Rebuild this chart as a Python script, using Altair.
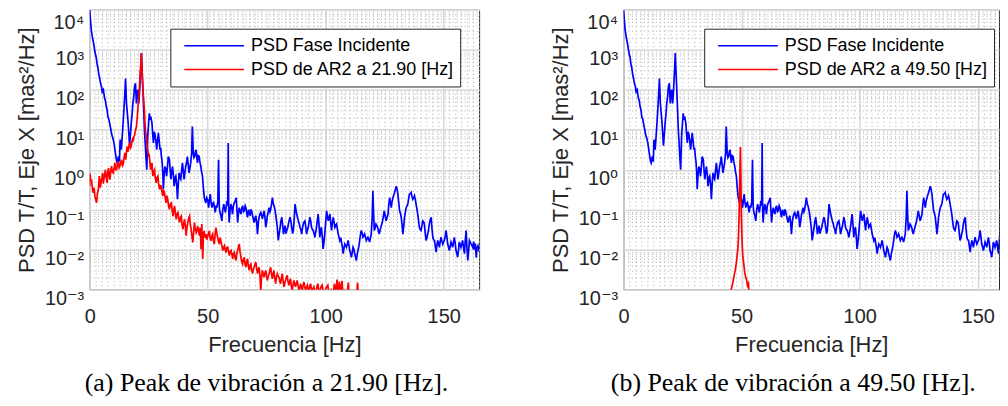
import altair as alt
import pandas as pd

# ---------------- data (log10 of PSD) ----------------
blue_name = "PSD Fase Incidente"
red_a_name = "PSD de AR2 a 21.90 [Hz]"
red_b_name = "PSD de AR2 a 49.50 [Hz]"
caption_a = "(a) Peak de vibración a 21.90 [Hz]."
caption_b = "(b) Peak de vibración a 49.50 [Hz]."

blue_hz = [
    0.0, 0.4, 0.7, 1.2, 1.7, 2.1, 2.4, 2.8, 3.1, 3.5, 3.8, 4.2, 4.6, 5.0, 5.3, 5.8, 6.3, 6.7, 7.0, 7.4,
    7.7, 8.2, 8.6, 9.0, 9.4, 9.8, 10.3, 10.7, 11.0, 11.4, 11.7, 12.2, 12.6, 12.9, 13.4, 13.9, 14.2, 14.5, 14.9, 15.2,
    15.6, 16.2, 16.6, 16.9, 17.3, 17.6, 18.0, 18.3, 18.7, 19.0, 19.4, 19.8, 20.1, 20.4, 20.8, 21.1, 21.4, 21.7, 21.9, 22.2,
    22.5, 22.9, 23.2, 23.6, 23.9, 24.2, 24.6, 25.0, 25.3, 25.6, 25.9, 26.4, 26.7, 27.0, 27.4, 27.7, 28.1, 28.4, 28.8, 29.1,
    29.5, 29.8, 30.1, 30.4, 30.7, 31.0, 31.2, 31.6, 31.9, 32.3, 32.6, 33.0, 33.3, 33.8, 34.1, 34.4, 34.8, 35.1, 35.5, 35.8,
    36.2, 36.5, 36.9, 37.2, 37.6, 37.9, 38.3, 38.6, 39.0, 39.3, 39.7, 40.0, 40.4, 40.7, 41.1, 41.4, 41.8, 42.1, 42.5, 42.8,
    43.2, 43.5, 43.9, 44.2, 44.5, 44.8, 45.1, 45.4, 45.7, 46.0, 46.4, 46.7, 47.1, 47.4, 47.8, 48.1, 48.5, 48.8, 49.2, 49.6,
    50.0, 50.4, 50.7, 51.1, 51.4, 51.8, 52.1, 52.5, 52.9, 53.2, 53.6, 53.9, 54.3, 54.6, 54.9, 55.1, 55.6, 56.0, 56.4, 56.8,
    57.1, 57.5, 57.9, 58.2, 58.5, 58.7, 58.9, 59.1, 59.5, 59.8, 60.2, 60.5, 60.9, 61.3, 61.7, 62.1, 62.4, 62.7, 63.1, 63.4,
    63.8, 64.1, 64.5, 64.8, 65.2, 65.5, 65.9, 66.2, 66.6, 66.9, 67.3, 67.6, 68.0, 68.3, 68.7, 69.0, 69.4, 69.7, 70.1, 70.4,
    70.8, 71.1, 71.5, 71.8, 72.2, 72.5, 72.9, 73.2, 73.6, 73.9, 74.3, 74.6, 75.0, 75.3, 75.7, 76.0, 76.4, 76.7, 77.1, 77.4,
    77.8, 78.1, 78.5, 78.8, 79.2, 79.5, 79.9, 80.3, 80.7, 81.0, 81.4, 81.8, 82.1, 82.5, 82.8, 83.2, 83.5, 83.9, 84.2, 84.6,
    84.9, 85.3, 85.6, 86.0, 86.3, 86.7, 87.0, 87.4, 87.7, 88.1, 88.4, 88.8, 89.1, 89.5, 89.8, 90.2, 90.5, 90.9, 91.2, 91.6,
    91.9, 92.3, 92.6, 93.0, 93.3, 93.7, 94.0, 94.4, 94.7, 95.1, 95.4, 95.8, 96.1, 96.5, 96.8, 97.2, 97.5, 97.9, 98.2, 98.6,
    98.9, 99.3, 99.6, 100.0, 100.4, 100.7, 101.1, 101.4, 101.8, 102.1, 102.5, 102.8, 103.2, 103.5, 103.9, 104.2, 104.6, 105.0, 105.3, 105.7,
    106.0, 106.4, 106.7, 107.1, 107.4, 107.8, 108.1, 108.5, 108.8, 109.2, 109.5, 109.9, 110.2, 110.6, 110.9, 111.3, 111.6, 112.0, 112.3, 112.7,
    113.0, 113.4, 113.7, 114.1, 114.4, 114.8, 115.1, 115.5, 115.8, 116.2, 116.5, 116.9, 117.2, 117.6, 117.9, 118.3, 118.6, 119.0, 119.3, 119.7,
    120.0, 120.3, 120.6, 121.0, 121.3, 121.7, 122.0, 122.4, 122.7, 123.1, 123.4, 123.8, 124.1, 124.5, 124.8, 125.2, 125.6, 126.0, 126.4, 126.7,
    127.1, 127.5, 127.8, 128.1, 128.5, 128.9, 129.2, 129.6, 129.9, 130.3, 130.6, 131.0, 131.3, 131.7, 132.0, 132.4, 132.7, 133.1, 133.4, 133.8,
    134.1, 134.5, 134.8, 135.2, 135.5, 135.9, 136.2, 136.6, 136.9, 137.3, 137.6, 138.0, 138.3, 138.7, 139.0, 139.4, 139.7, 140.1, 140.4, 140.8,
    141.1, 141.5, 141.8, 142.2, 142.5, 142.9, 143.2, 143.6, 143.9, 144.3, 144.7, 145.0, 145.4, 145.7, 146.1, 146.4, 146.8, 147.1, 147.5, 147.8,
    148.2, 148.5, 148.9, 149.2, 149.6, 150.0, 150.3, 150.7, 151.0, 151.4, 151.7, 152.1, 152.4, 152.8, 153.1, 153.5, 153.8, 154.2, 154.5, 154.9,
    155.2, 155.6, 155.9, 156.3, 156.6, 157.0, 157.3, 157.7, 158.0, 158.4, 158.8, 159.1, 159.5, 159.8, 160.2, 160.6, 160.9, 161.3, 161.6, 162.0,
    162.3, 162.7, 163.0, 163.4, 163.8, 164.1, 164.5, 165.0,
]
blue_log = [
    4.0, 3.7, 3.49, 3.3, 3.15, 3.0, 2.9, 2.8, 2.66, 2.55, 2.41, 2.3, 2.16, 2.08, 1.95, 2.0, 1.79, 1.72, 1.58, 1.5,
    1.33, 1.25, 1.12, 1.0, 0.87, 0.8, 0.67, 0.5, 0.38, 0.22, 0.17, 0.33, 0.2, 0.75, 0.5, 0.92, 1.2, 1.5, 1.9, 2.28,
    1.66, 1.25, 0.9, 0.6, 0.9, 1.16, 1.4, 1.66, 1.85, 2.08, 2.16, 1.66, 1.9, 2.0, 1.66, 1.9, 2.24, 2.6, 2.92, 2.5,
    2.08, 1.5, 1.0, 0.6, 0.25, 0.0, 0.83, 1.2, 1.41, 1.25, 1.33, 1.16, 0.9, 0.67, 0.95, 0.87, 0.7, 0.5, 0.75, 0.92,
    0.7, 0.5, 0.55, 0.33, 0.2, -0.08, -0.49, -0.1, 0.08, 0.0, -0.16, 0.1, 0.33, 0.25, 0.0, -0.24, -0.05, 0.08, -0.15, -0.41,
    -0.2, -0.16, -0.4, -0.74, -0.3, -0.08, -0.2, -0.24, 0.0, 0.17, -0.05, -0.24, -0.05, 0.08, 0.2, 0.33, 0.1, -0.08, 0.05, 0.17,
    0.4, 1.08, 0.42, 0.3, 0.33, 0.45, 0.5, 0.3, 0.17, 0.35, 0.33, 0.2, 0.08, -0.05, -0.16, -0.4, -0.66, -0.75, -0.83, -0.7,
    -0.75, -0.95, -0.8, -0.61, -0.8, -0.95, -0.85, -0.82, -0.95, -1.07, -0.9, -0.95, -0.8, 0.25, -0.9, -1.03, -1.15, -1.28, -1.0, -0.86,
    -0.95, -1.07, -0.9, -0.78, -0.9, 0.67, -0.95, -1.32, -1.0, -0.86, -0.95, -1.11, -0.9, -0.82, -0.78, -0.7, -1.0, -1.32, -1.05, -0.95,
    -1.05, -1.11, -0.95, -0.9, -1.05, -1.03, -0.9, -0.95, -1.1, -1.19, -1.0, -1.07, -1.15, -0.99, -1.05, -1.15, -1.25, -1.32, -1.2, -1.15,
    -1.35, -1.61, -1.3, -1.19, -1.1, -1.07, -1.15, -1.23, -1.1, -1.03, -1.2, -1.44, -1.3, -1.15, -1.05, -0.95, -1.05, -0.99, -0.85, -0.7,
    -0.85, -0.9, -1.0, -1.11, -1.3, -1.44, -1.77, -1.6, -1.44, -1.3, -1.19, -1.4, -1.61, -1.5, -1.4, -1.6, -1.52, -1.45, -1.36, -1.25,
    -1.19, -1.3, -1.44, -1.6, -1.52, -1.2, -0.86, -1.0, -1.11, -1.2, -1.28, -1.35, -1.44, -1.5, -1.61, -1.45, -1.36, -1.3, -1.28, -1.45,
    -1.61, -1.5, -1.44, -1.3, -1.19, -1.3, -1.44, -1.5, -1.52, -1.6, -1.69, -1.55, -1.44, -1.25, -1.11, -1.4, -1.69, -1.5, -1.44, -1.7,
    -1.98, -1.8, -1.61, -1.3, -1.03, -1.15, -1.28, -1.2, -1.11, -1.3, -1.52, -1.35, -1.19, -1.3, -1.44, -1.4, -1.36, -1.5, -1.61, -1.7,
    -1.77, -1.7, -1.81, -1.95, -2.1, -1.95, -1.86, -1.9, -1.94, -1.85, -1.77, -1.9, -2.02, -2.1, -2.19, -2.05, -1.94, -2.0, -2.1, -2.2,
    -2.27, -2.1, -2.02, -1.9, -1.77, -1.6, -1.52, -1.6, -1.69, -1.65, -1.61, -1.7, -1.77, -1.72, -1.69, -1.75, -1.81, -1.7, -1.61, -1.2,
    -0.53, -1.1, -1.52, -1.45, -1.36, -1.4, -1.44, -1.55, -1.61, -1.5, -1.44, -1.35, -1.28, -1.15, -1.03, -1.15, -1.28, -1.2, -1.11, -0.9,
    -0.7, -0.85, -0.95, -0.8, -0.7, -0.62, -0.57, -0.48, -0.41, -0.5, -0.61, -0.85, -1.03, -1.1, -1.19, -1.4, -1.61, -1.4, -1.19, -1.05,
    -0.95, -0.9, -0.86, -0.7, -0.61, -0.6, -0.57, -0.68, -0.74, -0.7, -0.65, -0.75, -0.86, -1.0, -1.11, -1.3, -1.44, -1.5, -1.52, -1.4,
    -1.28, -1.3, -1.36, -1.6, -1.77, -1.7, -1.61, -1.5, -1.36, -1.25, -1.19, -1.45, -1.69, -1.75, -1.77, -1.9, -2.06, -1.9, -1.77, -1.85,
    -1.94, -1.8, -1.69, -1.78, -1.86, -1.8, -1.77, -1.65, -1.52, -1.7, -1.86, -1.95, -2.02, -1.9, -1.81, -1.88, -1.94, -1.8, -1.69, -1.85,
    -2.02, -2.1, -2.19, -2.0, -1.81, -1.88, -1.94, -1.85, -1.77, -1.95, -2.1, -1.8, -1.52, -1.9, -2.27, -2.0, -1.77, -1.82, -1.86, -1.9,
    -1.94, -1.8, -2.0, -1.85, -2.2, -1.95, -1.9, -2.05,
]

red_a_hz = [
    0.0, 0.1, 0.5, 0.8, 1.2, 1.5, 1.9, 2.2, 2.6, 2.9, 3.3, 3.7, 4.1, 4.5, 4.8, 5.2, 5.5, 5.8, 6.0, 6.4,
    6.7, 7.0, 7.4, 7.7, 8.0, 8.3, 8.6, 9.0, 9.3, 9.6, 10.0, 10.4, 10.7, 11.0, 11.4, 11.8, 12.1, 12.5, 12.8, 13.2,
    13.5, 13.9, 14.2, 14.6, 14.9, 15.3, 15.6, 15.9, 16.2, 16.4, 16.7, 17.0, 17.3, 17.6, 17.9, 18.1, 18.4, 18.7, 19.0, 19.2,
    19.5, 19.8, 20.0, 20.2, 20.4, 20.6, 20.9, 21.1, 21.3, 21.5, 21.7, 21.9, 22.1, 22.3, 22.5, 22.8, 23.0, 23.2, 23.4, 23.6,
    23.8, 24.0, 24.2, 24.4, 24.7, 25.0, 25.2, 25.4, 25.6, 25.8, 26.1, 26.4, 26.6, 26.8, 27.1, 27.5, 27.8, 28.2, 28.5, 28.9,
    29.2, 29.6, 29.9, 30.3, 30.6, 31.0, 31.3, 31.7, 32.0, 32.4, 32.7, 33.1, 33.4, 33.8, 34.2, 34.6, 34.9, 35.3, 35.6, 36.0,
    36.3, 36.7, 37.0, 37.4, 37.7, 38.1, 38.4, 38.8, 39.1, 39.5, 39.8, 40.2, 40.5, 40.9, 41.2, 41.6, 42.0, 42.3, 42.6, 43.0,
    43.3, 43.7, 44.0, 44.4, 44.7, 45.1, 45.5, 45.8, 46.1, 46.5, 46.8, 47.2, 47.5, 47.9, 48.2, 48.5, 48.9, 49.3, 49.6, 49.9,
    50.3, 50.7, 51.0, 51.4, 51.8, 52.1, 52.5, 52.8, 53.2, 53.5, 53.9, 54.2, 54.6, 54.9, 55.3, 55.6, 56.0, 56.4, 56.7, 57.1,
    57.4, 57.8, 58.1, 58.5, 58.8, 59.2, 59.5, 59.9, 60.2, 60.6, 60.9, 61.3, 61.6, 62.0, 62.3, 62.7, 63.0, 63.4, 63.7, 64.1,
    64.4, 64.8, 65.1, 65.5, 65.8, 66.2, 66.5, 66.9, 67.2, 67.6, 67.9, 68.3, 68.6, 69.0, 69.3, 69.7, 70.0, 70.4, 70.7, 71.1,
    71.4, 71.8, 72.2, 72.5, 72.8, 73.2, 73.5, 73.9, 74.2, 74.6, 74.9, 75.3, 75.6, 76.0, 76.3, 76.7, 77.0, 77.4, 77.7, 78.1,
    78.4, 78.8, 79.1, 79.5, 79.8, 80.2, 80.5, 80.9, 81.2, 81.6, 81.9, 82.3, 82.6, 83.0, 83.3, 83.7, 84.0, 84.4, 84.7, 85.1,
    85.4, 85.8, 86.1, 86.5, 86.8, 87.2, 87.5, 87.9, 88.3, 88.7, 89.0, 89.4, 89.7, 90.1, 90.4, 90.8, 91.1, 91.5, 91.8, 92.2,
    92.5, 92.9, 93.2, 93.6, 93.9, 94.3, 94.6, 95.0, 95.5, 96.0, 96.3, 96.7, 97.0, 97.4, 97.9, 98.5, 99.0, 99.5, 100.2, 100.9,
    101.5, 102.3, 103.0, 103.7, 104.3, 104.8, 105.3, 105.8, 106.4, 106.9, 107.5, 108.0, 108.6, 109.1, 109.6, 110.1, 110.8, 111.5, 112.2, 112.9,
    113.5, 114.0, 114.8, 115.5,
]
red_a_log = [
    -0.41, -0.1, -0.3, -0.25, -0.5, -0.58, -0.45, -0.66, -0.75, -0.83, -0.6, -0.49, -0.16, -0.45, -0.33, -0.2, -0.08, -0.35, -0.25, -0.1,
    0.0, -0.2, -0.33, -0.05, 0.04, -0.15, -0.25, 0.0, 0.09, -0.05, -0.08, 0.05, 0.17, 0.0, 0.0, 0.15, 0.21, 0.05, 0.09, 0.2,
    0.25, 0.1, 0.13, 0.3, 0.42, 0.25, 0.45, 0.58, 0.45, 0.5, 0.62, 0.67, 0.55, 0.58, 0.7, 0.75, 0.7, 0.83, 0.85, 0.92,
    1.0, 1.08, 1.2, 1.33, 1.5, 1.66, 1.85, 2.08, 2.3, 2.49, 2.7, 2.92, 2.6, 2.33, 2.05, 1.83, 1.65, 1.5, 1.2, 1.0,
    0.9, 0.83, 0.7, 0.58, 0.45, 0.33, 0.4, 0.25, 0.15, 0.0, 0.1, 0.17, -0.05, -0.16, -0.05, 0.0, -0.2, -0.33, -0.2, -0.16,
    -0.35, -0.49, -0.4, -0.41, -0.55, -0.66, -0.5, -0.58, -0.7, -0.83, -0.65, -0.74, -0.9, -0.99, -0.85, -0.83, -1.0, -1.16, -1.0, -0.91,
    -1.1, -1.24, -1.1, -1.07, -1.2, -1.32, -1.2, -1.16, -1.35, -1.49, -1.35, -1.24, -1.4, -1.65, -1.45, -1.32, -1.2, -1.16, -1.35, -1.49,
    -1.65, -1.82, -1.6, -1.32, -1.45, -1.57, -1.5, -1.41, -1.55, -1.65, -1.45, -1.99, -1.36, -2.23, -1.6, -1.53, -1.7, -1.61, -1.75, -1.69,
    -1.6, -1.53, -1.7, -1.78, -1.65, -1.61, -1.8, -1.86, -1.6, -1.45, -1.6, -1.69, -1.8, -1.86, -1.7, -1.78, -1.9, -2.02, -1.95, -1.9,
    -2.0, -2.07, -1.95, -1.94, -2.05, -2.15, -2.05, -2.02, -2.1, -2.23, -2.1, -2.07, -2.2, -2.27, -2.1, -2.02, -1.95, -1.86, -2.05, -2.19,
    -2.3, -2.36, -2.25, -2.19, -2.35, -2.44, -2.3, -2.23, -2.4, -2.52, -2.4, -2.36, -2.5, -2.6, -2.5, -2.44, -2.38, -2.31, -2.45, -2.6,
    -2.5, -2.44, -2.7, -3.05, -2.7, -2.52, -2.6, -2.69, -2.6, -2.52, -2.65, -2.77, -2.68, -2.6, -2.52, -2.44, -2.6, -2.73, -2.6, -2.52,
    -2.7, -2.85, -2.7, -2.6, -2.65, -2.69, -2.78, -2.85, -2.72, -2.6, -2.75, -2.93, -2.85, -2.77, -2.7, -2.64, -2.78, -2.89, -2.8, -2.73,
    -2.9, -3.02, -2.9, -2.77, -2.85, -2.93, -2.85, -2.77, -2.9, -3.02, -2.95, -2.85, -2.95, -3.02, -2.9, -2.81, -2.92, -3.02, -2.95, -2.89,
    -2.98, -3.05, -2.92, -2.85, -2.97, -3.05, -2.97, -2.93, -3.1, -3.05, -2.92, -2.85, -3.0, -3.1, -2.95, -2.89, -3.05, -3.1, -2.95, -2.89,
    -3.15, -3.02, -3.2, -2.85, -3.1, -2.75, -3.2, -2.8, -3.1, -2.78, -3.25, -3.0, -3.3, -3.1, -2.82, -3.3, -3.1, -3.35, -3.2, -3.3,
    -2.82, -3.3, -3.4, -3.5,
]

red_b_hz = [45.0, 45.6, 46.0, 46.3, 46.7, 47.0, 47.4, 47.8, 48.1, 48.4, 48.7, 49.0, 49.3, 49.5,
            49.7, 49.9, 50.2, 50.5, 50.8, 51.1, 51.4, 51.8, 52.1, 52.5, 52.9, 53.3]
red_b_log = [-3.3, -3.0, -2.9, -2.82, -2.7, -2.6, -2.48, -2.32, -2.15, -1.99, -1.65, -0.99, 0.0, 0.57,
             -0.16, -1.16, -1.82, -2.15, -2.3, -2.45, -2.6, -2.7, -2.75, -2.9, -2.85, -3.2]

# axis ticks / labels
x_major = [0, 50, 100, 150]
x_minor_step = 2.5
x_max_a = 165.0   # left panel shows the whole axis
x_max_b = 159.0   # right panel is cut by the page edge
y_major = [0.001, 0.01, 0.1, 1, 10, 100, 1000, 10000]
y_major_labels = ["10⁻³", "10⁻²", "10⁻¹", "10⁰", "10¹", "10²", "10³", "10⁴"]
y_title = "PSD T/T, Eje X [mas²/Hz]"
x_title = "Frecuencia [Hz]"

# ---------------- build ----------------
def frame(hz, lg, name):
    return pd.DataFrame({"hz": hz, "psd": [10.0 ** v for v in lg], "serie": name})

y_grid = sorted(set(y_major + [m * 10.0 ** e for e in range(-3, 4) for m in range(2, 10)]))

x_major_test = "indexof(%s, datum.value) >= 0" % str(x_major)
y_major_test = "indexof([%s], datum.value) >= 0" % ",".join(repr(v) for v in y_major)
y_top_test = "datum.value == %r" % y_major[-1]
y_label_expr = " : ".join("datum.value == %r ? '%s'" % (v, l) for v, l in zip(y_major, y_major_labels)) + " : ''"

SANS = "Liberation Sans"
TXT = "#262626"
PX_PER_HZ = 391 / 165.0
H = 281
MAJOR_GRID = "#d9d9d9"
MINOR_GRID = "#b0b0b0"


def x_axis(x_max):
    grid_vals = [i * x_minor_step for i in range(int(x_max / x_minor_step) + 1)]
    return alt.Axis(
        values=grid_vals, title=x_title, labelExpr=x_major_test + " ? format(datum.value, 'd') : ''",
        labelFont=SANS, labelColor=TXT, labelPadding=17, labelOverlap=False, labelFlush=False,
        labelFontSize={"condition": {"test": x_major_test, "value": 20}, "value": 0},
        titleFont=SANS, titleFontSize=22, titleFontWeight="normal", titleColor=TXT,
        titleBaseline="middle", titleY=55,
        ticks=False, domain=False, grid=True,
        gridColor={"condition": {"test": x_major_test, "value": MAJOR_GRID}, "value": MINOR_GRID},
        gridDash={"condition": {"test": x_major_test, "value": []}, "value": [1, 3]},
        gridWidth={"condition": {"test": x_major_test, "value": 1.5}, "value": 1},
    )


def y_axis():
    return alt.Axis(
        values=y_grid, title=y_title, labelExpr=y_label_expr,
        labelFont=SANS + ", DejaVu Sans", labelColor=TXT, labelPadding=6,
        labelFontSize={"condition": {"test": y_major_test, "value": 20}, "value": 0},
        labelOverlap=False, labelFlush=False, labelBaseline="middle",
        labelOffset={"condition": {"test": y_top_test, "value": 13}, "value": 9},
        titleFont=SANS, titleFontSize=22, titleFontWeight="normal", titleColor=TXT,
        titleBaseline="middle", titleAngle=270, titleX=-63, titleY=H / 2,
        ticks=False, domain=False, grid=True,
        gridColor={"condition": {"test": y_major_test, "value": MAJOR_GRID}, "value": MINOR_GRID},
        gridDash={"condition": {"test": y_major_test, "value": []}, "value": [1, 3]},
        gridWidth={"condition": {"test": y_major_test, "value": 1.5}, "value": 1},
    )


def panel(red_hz, red_log, red_name, caption, x_max):
    data = pd.concat([frame(blue_hz, blue_log, blue_name), frame(red_hz, red_log, red_name)])
    color = alt.Color(
        "serie:N",
        scale=alt.Scale(domain=[blue_name, red_name], range=["#0000ff", "#ff0000"]),
        legend=alt.Legend(
            title=None, orient="none", legendX=81, legendY=19, direction="vertical",
            symbolType="stroke", symbolSize=3600, symbolStrokeWidth=1.5, clipHeight=24,
            symbolOffset=8, labelOffset=6, rowPadding=0, padding=5,
            labelFont=SANS, labelFontSize=18, labelColor="#000000", labelLimit=400,
            fillColor="#ffffff", strokeColor="#262626",
        ),
    )
    x = alt.X("hz:Q", scale=alt.Scale(domain=[0, x_max], nice=False, zero=False), axis=x_axis(x_max))
    y = alt.Y("psd:Q", scale=alt.Scale(type="log", domain=[y_major[0], y_major[-1]], nice=False), axis=y_axis())
    blue = alt.Chart(data).transform_filter(alt.datum.serie == blue_name).mark_line(
        clip=True, strokeWidth=1.7).encode(x=x, y=y, color=color)
    red = alt.Chart(data).transform_filter(alt.datum.serie == red_name).mark_line(
        clip=True, strokeWidth=1.7).encode(x=x, y=y, color=color)
    return alt.layer(blue, red).properties(
        width=round(x_max * PX_PER_HZ), height=H,
        title=alt.TitleParams(caption, orient="bottom", anchor="middle", font="Liberation Serif",
                              fontSize=26, fontWeight="normal", color="#000000", offset=15, dx=-18),
    )


chart = alt.hconcat(
    panel(red_a_hz, red_a_log, red_a_name, caption_a, x_max_a),
    panel(red_b_hz, red_b_log, red_b_name, caption_b, x_max_b),
    spacing=69,
    padding={"left": 7, "top": 0, "right": 0, "bottom": 0},
).resolve_scale(color="independent").configure_view(stroke="#262626", strokeWidth=1)

chart.save("out.html", embed_options={"renderer": "svg", "actions": False})
